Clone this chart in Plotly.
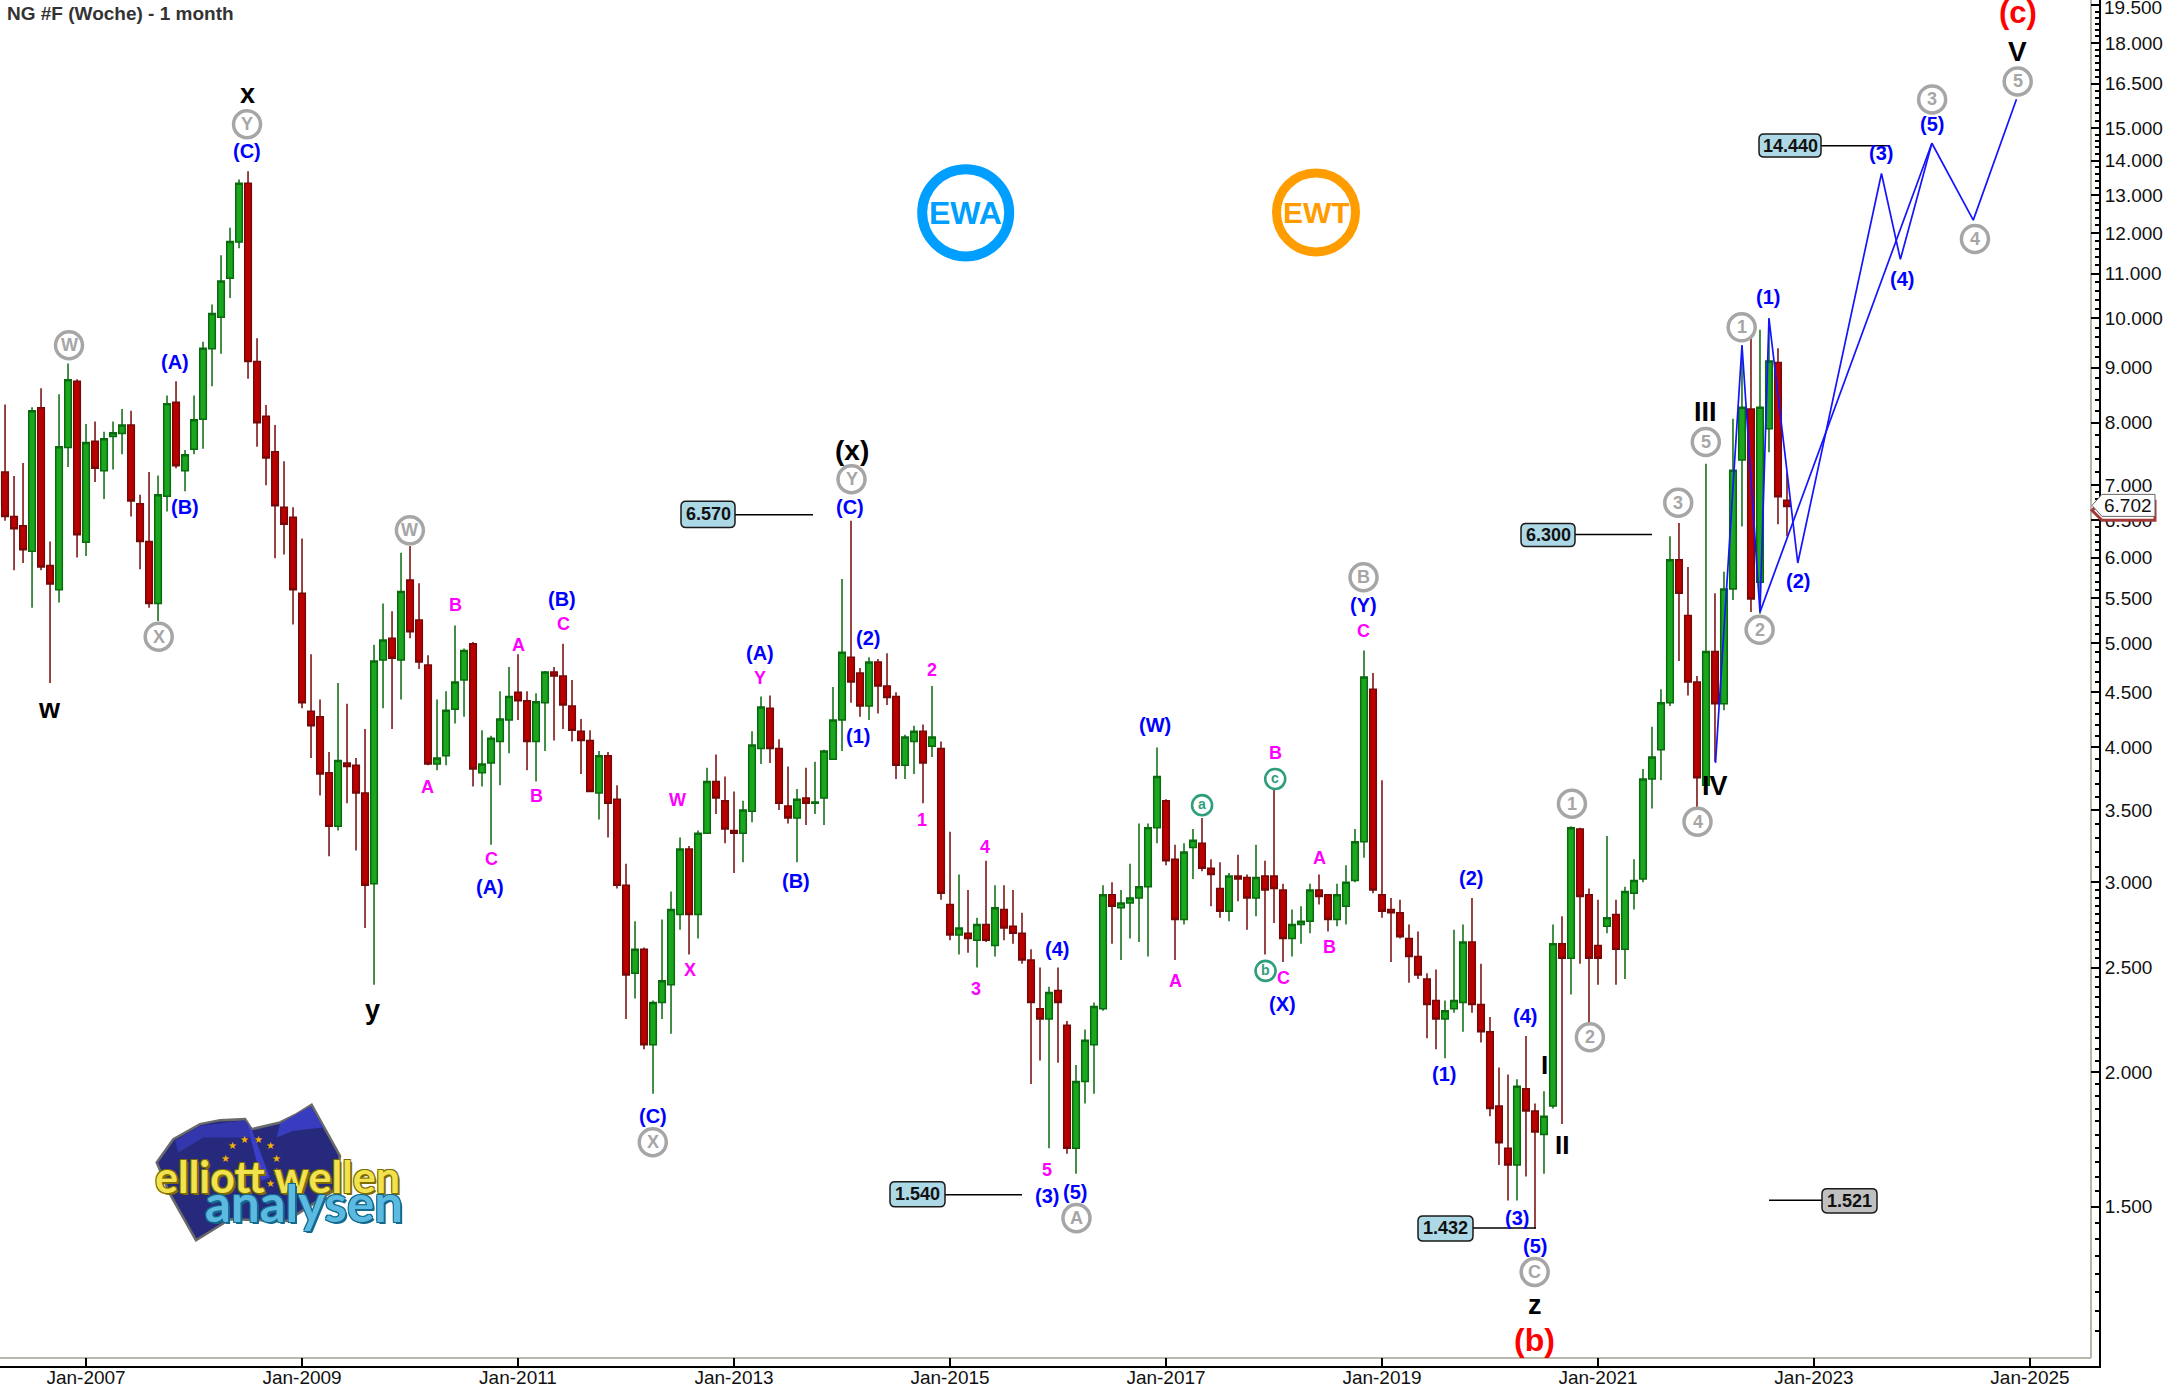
import plotly.graph_objects as go

# ---------- data: monthly OHLC, Mar-2006 onward (month number counted from Jan-2006 = 0) ----------
opens = [7.20,7.20,6.55,6.42,6.08,8.26,5.90,5.60,7.59,8.74,6.20,7.69,7.22,7.77,7.82,7.96,6.73,6.21,5.44,6.84,8.36,7.22,7.56,8.06,9.37,
 10.02,10.89,11.77,13.34,9.12,8.11,7.52,6.68,6.54,5.56,4.32,4.27,3.79,3.38,3.87,3.85,3.63,2.99,4.82,5.05,4.82,5.72,5.25,4.77,3.86,3.93,4.34,4.62,
 4.99,3.79,3.87,4.05,4.24,4.50,4.42,4.05,4.40,4.70,4.66,4.37,4.14,4.06,3.63,3.93,3.58,2.98,2.47,2.60,2.12,2.32,2.41,2.80,3.22,2.80,3.33,3.72,3.57,
 3.35,3.33,3.49,3.99,4.35,3.99,3.53,3.44,3.59,3.55,3.59,3.90,4.24,4.85,4.69,4.37,4.80,4.56,4.46,3.85,4.05,4.14,4.01,3.99,2.86,2.68,2.69,2.65,2.74,
 2.62,2.83,2.73,2.69,2.54,2.29,2.24,2.38,2.21,1.70,1.96,2.12,2.29,2.92,2.84,2.87,2.90,2.97,3.37,3.57,3.15,2.77,3.23,3.26,3.09,2.96,2.82,3.04,3.03,
 2.90,3.04,3.04,2.95,2.66,2.74,2.76,2.95,2.92,2.77,2.85,3.01,3.27,4.53,2.92,2.83,2.81,2.66,2.56,2.44,2.33,2.24,2.29,2.32,2.64,2.31,2.18,1.86,1.70,
 1.64,1.93,1.84,1.75,1.86,2.63,2.55,3.36,2.92,2.62,2.73,2.80,2.60,2.93,3.02,3.74,3.98,4.40,5.97,5.30,4.60,3.69,4.91,4.39,5.61,7.39,8.24,5.69,7.90,9.10,6.78]
highs = [7.30,8.32,7.14,7.34,8.27,8.61,6.21,8.50,9.08,8.78,7.98,8.02,7.85,8.02,8.24,8.21,6.86,7.20,7.15,8.48,8.74,7.55,8.48,9.51,10.30,
 11.44,12.13,13.45,13.69,9.58,8.31,7.96,7.37,6.68,6.25,4.88,4.43,3.96,4.59,4.39,3.91,4.16,4.98,5.44,5.35,6.06,6.15,5.68,4.87,4.43,4.51,5.19,4.94,
 5.01,4.15,4.10,4.51,4.75,4.88,4.51,4.49,4.71,4.75,4.99,4.62,4.25,4.15,3.97,3.96,3.69,3.12,2.76,2.61,2.33,2.77,2.94,3.30,3.24,3.35,3.83,3.94,3.76,
 3.64,3.57,4.14,4.46,4.47,4.07,3.84,3.66,3.83,3.88,3.98,4.55,5.73,6.49,4.74,4.85,4.83,4.89,4.50,4.11,4.19,4.20,4.56,4.05,3.34,3.05,2.95,2.78,3.14,
 2.98,2.98,2.95,2.81,2.60,2.50,2.40,2.50,2.23,2.03,2.19,2.32,2.98,3.00,2.95,3.12,3.40,3.40,4.00,3.58,3.25,3.26,3.36,3.44,3.15,3.13,3.06,3.18,3.05,
 3.25,3.14,3.66,2.99,2.83,2.85,2.99,3.05,2.92,2.99,3.11,3.36,4.92,4.69,3.73,2.90,2.89,2.74,2.70,2.47,2.49,2.33,2.71,2.74,2.90,2.52,2.25,2.02,1.99,
 1.97,2.16,1.87,1.92,2.74,2.79,3.38,3.37,2.96,2.89,3.31,2.89,2.97,3.15,3.82,4.18,4.53,6.28,6.46,5.88,4.66,7.33,5.56,5.82,8.07,9.44,9.64,9.76,10.00,9.38,7.19]
lows = [6.40,6.49,5.84,5.93,5.39,5.84,4.59,5.45,7.28,6.00,6.02,7.05,6.80,7.24,7.48,6.55,5.85,5.39,5.24,6.62,7.26,6.91,7.48,7.57,8.65,
 9.27,10.44,11.61,8.79,7.60,7.00,5.99,6.04,5.20,4.35,3.91,3.61,3.17,3.35,3.55,3.21,2.72,2.41,4.35,4.16,4.43,5.05,4.73,3.85,3.81,3.85,4.21,4.27,
 3.68,3.68,3.25,3.69,3.95,4.24,3.81,3.72,3.97,4.06,4.16,4.05,3.78,3.64,3.43,3.30,2.96,2.24,2.34,2.10,1.91,2.24,2.17,2.71,2.57,2.66,3.33,3.47,3.26,
 3.06,3.13,3.41,3.86,3.87,3.50,3.40,3.13,3.39,3.47,3.39,3.90,3.97,4.40,4.27,4.24,4.30,4.38,3.74,3.74,3.78,3.55,3.92,2.89,2.65,2.57,2.58,2.50,2.64,
 2.56,2.65,2.63,2.52,1.95,2.05,1.70,2.04,1.68,1.61,1.87,1.91,2.28,2.63,2.54,2.66,2.64,2.56,3.26,3.11,2.54,2.74,3.02,3.07,2.85,2.78,2.76,2.88,2.71,
 2.79,2.57,2.75,2.53,2.56,2.63,2.69,2.86,2.70,2.73,2.74,3.00,3.16,2.93,2.78,2.53,2.66,2.42,2.44,2.15,2.10,2.06,2.27,2.18,2.27,2.13,1.82,1.64,1.52,
 1.52,1.60,1.432,1.61,1.85,1.79,2.36,2.52,2.22,2.41,2.69,2.41,2.44,2.83,3.00,3.51,3.73,4.37,4.81,4.47,3.52,3.69,3.88,4.33,5.48,6.41,5.34,5.32,7.51,6.44,6.28]
closes = [6.72,6.55,6.38,6.10,8.21,5.88,5.67,7.60,8.77,6.30,7.67,7.26,7.73,7.83,7.96,6.77,6.21,5.44,6.86,8.33,7.30,7.47,8.05,9.38,10.10,
 10.83,11.78,13.34,9.12,8.00,7.42,6.70,6.44,5.60,4.40,4.19,3.78,3.38,3.89,3.84,3.63,2.98,4.81,5.03,4.84,5.58,5.12,4.80,3.86,3.91,4.33,4.60,4.92,
 3.82,3.86,4.08,4.25,4.46,4.42,4.05,4.41,4.70,4.66,4.38,4.15,4.06,3.64,3.93,3.55,2.98,2.46,2.60,2.12,2.32,2.43,2.83,3.22,2.80,3.33,3.72,3.59,3.36,
 3.33,3.50,4.02,4.36,3.99,3.55,3.44,3.58,3.55,3.56,3.97,4.24,4.90,4.60,4.37,4.80,4.56,4.45,3.85,4.09,4.14,3.87,4.09,2.93,2.68,2.72,2.66,2.74,2.65,
 2.84,2.72,2.69,2.54,2.32,2.24,2.37,2.32,1.70,1.96,2.14,2.30,2.92,2.85,2.87,2.90,2.97,3.37,3.76,3.14,2.77,3.20,3.28,3.09,3.05,2.82,3.04,3.02,2.90,
 3.03,2.95,2.96,2.66,2.74,2.76,2.95,2.91,2.77,2.92,3.00,3.27,4.65,2.95,2.82,2.81,2.67,2.56,2.46,2.31,2.24,2.28,2.33,2.64,2.31,2.18,1.85,1.72,1.64,
 1.94,1.84,1.76,1.82,2.63,2.55,3.37,2.91,2.55,2.55,2.78,2.60,2.94,3.01,3.74,3.92,4.40,5.97,5.56,4.60,3.75,4.91,4.39,5.61,7.23,8.27,5.49,8.27,9.13,6.83,6.69]
months = list(range(2, 2 + len(opens)))

# projected wave paths: (month number, price)
path_circled_m = [193.06, 196, 198, 217.1, 221.7, 226.5]
path_circled_p = [3.87, 9.44, 5.34, 14.53, 12.33, 15.96]
path_minor_m = [198, 199, 202.2, 211.5, 213.6, 217.1]
path_minor_p = [5.34, 10.0, 5.93, 13.62, 11.34, 14.53]

x_tick_months = [12, 36, 60, 84, 108, 132, 156, 180, 204, 228]
x_tick_labels = ["Jan-2007","Jan-2009","Jan-2011","Jan-2013","Jan-2015","Jan-2017","Jan-2019","Jan-2021","Jan-2023","Jan-2025"]
y_ticks = [1.5,2,2.5,3,3.5,4,4.5,5,5.5,6,6.5,7,8,9,10,11,12,13,14,15,16.5,18,19.5]
last_price = 6.702

# wave labels, positions in the coordinates of the 1568-wide view
black_labels = [("w",36,513,27),("x",179,68,27),("y",270,731,27),("(x)",617,326,28),("z",1112,945,27),("I",1119,771,26),
                ("II",1132,829,26),("III",1236,298,27),("IV",1243,569,27),("V",1462,37,28)]
red_labels = [("(b)",1112,970,32),("(c)",1462,9,31)]
blue_labels = [("(C)",179,109),("(A)",127,262),("(B)",134,367),("(A)",355,642),("(B)",407,434),("(C)",473,808),("(A)",551,473),
               ("(B)",577,638),("(C)",616,367),("(2)",629,462),("(1)",622,533),("(4)",766,687),("(3)",759,866),("(5)",779,863),
               ("(W)",837,525),("(X)",929,727),("(Y)",988,438),("(2)",1066,636),("(1)",1046,778),("(4)",1105,736),("(3)",1099,882),
               ("(5)",1112,902),("(1)",1281,215),("(2)",1303,421),("(3)",1363,111),("(4)",1378,202),("(5)",1400,90)]
magenta_labels = [("B",330,438),("A",310,570),("C",356,622),("A",376,467),("C",408,452),("B",389,576),("W",491,579),("X",500,702),
                  ("Y",551,491),("2",675,485),("1",668,594),("4",714,613),("3",707,716),("5",759,847),("A",852,710),("B",924,545),
                  ("C",930,708),("A",956,621),("B",963,686),("C",988,457)]
gray_circles = [("W",50,250),("X",115,461),("Y",179,90),("W",297,384),("X",473,827),("Y",617,347),("A",780,882),("B",988,418),
                ("C",1112,921),("1",1139,582),("2",1152,751),("3",1216,364),("5",1236,320),("4",1230,595),("1",1262,237),
                ("2",1275,456),("3",1400,72),("4",1431,173),("5",1462,59)]
green_circles = [("a",871,583),("b",917,703),("c",924,564)]
# price boxes: text, box x0,y0,x1,y1, line end x, line y, fill
price_boxes = [("6.570",681,501,735,527,813,514.5,"#add8e6"),("14.440",1759,134,1821,157,1890,145.7,"#add8e6"),
               ("6.300",1521,523,1575,546,1652,534,"#add8e6"),("1.540",890,1181,945,1206,1022,1194,"#add8e6"),
               ("1.432",1418,1215,1473,1240,1536,1227,"#add8e6"),("1.521",1822,1188,1877,1212,1769,1199.5,"#c0c0c0")]

W, H = 2164, 1384
S = 2164 / 1568
px = lambda v: v / W
py = lambda v: 1 - v / H
FONT = "Liberation Sans"
ann, shp = [], []

def text(t, x, y, size, color, bold=True, family=FONT, **kw):
    font = dict(family=family, size=size, color=color)
    font.update(kw.pop("fontx", {}))
    ann.append(dict(text=f"<b>{t}</b>" if bold else t, x=px(x), y=py(y), xref="paper", yref="paper",
                    xanchor="center", yanchor="middle", showarrow=False, font=font, **kw))

def paper_shape(**kw):
    shp.append(dict(xref="paper", yref="paper", **kw))

def pth(points, close=True):
    s = "M " + " L ".join(f"{px(a):.5f},{py(b):.5f}" for a, b in points)
    return s + (" Z" if close else "")

def round_box(x0, y0, x1, y1, r=5):
    a, b, c, d = px(x0), px(x1), py(y0), py(y1)
    rx, ry = r / W, r / H
    return (f"M {a+rx},{c} L {b-rx},{c} Q {b},{c} {b},{c-ry} L {b},{d+ry} Q {b},{d} {b-rx},{d} "
            f"L {a+rx},{d} Q {a},{d} {a},{d+ry} L {a},{c-ry} Q {a},{c} {a+rx},{c} Z")

def ring(cx, cy, d, color, lw):
    paper_shape(type="circle", x0=px(cx-d/2), x1=px(cx+d/2), y0=py(cy+d/2), y1=py(cy-d/2),
                line=dict(color=color, width=lw), fillcolor="rgba(255,255,255,0)")

for t, x, y, size in black_labels:
    text(t, x*S, y*S, size, "#000000")
for t, x, y, size in red_labels:
    text(t, x*S, y*S, size, "#ff0000")
for t, x, y in blue_labels:
    text(t, x*S, y*S, 20, "#0000ff")
for t, x, y in magenta_labels:
    text(t, x*S, y*S, 18, "#ff00ff")
for t, x, y in gray_circles:
    ring(x*S, y*S, 27, "#a6a6a6", 3.5)
    text(t, x*S, y*S, 18, "#a6a6a6")
for t, x, y in green_circles:
    ring(x*S, y*S, 20, "#2f9e7c", 2.6)
    text(t, x*S, y*S-1, 14, "#2f9e7c")

for t, x0, y0, x1, y1, xe, yl, fill in price_boxes:
    paper_shape(type="line", x0=px(x1 if xe > x1 else x0), x1=px(xe), y0=py(yl), y1=py(yl), line=dict(color="#000000", width=1.5))
    paper_shape(type="path", path=round_box(x0, y0, x1, y1), fillcolor=fill, line=dict(color="#1a1a1a", width=1.5))
    text(t, (x0+x1)/2, (y0+y1)/2, 18, "#111111")

text("NG #F (Woche) - 1 month", 120, 13, 19, "#333333")
text("19.500", 2133, 7, 19, "#111111", bold=False)

# EWA / EWT badges
ring(965.7, 212.7, 87, "#009fff", 10)
text("EWA", 965.7, 213, 32, "#009fff")
ring(1316, 212.3, 79, "#ff9d00", 9)
text("EWT", 1316, 212.5, 30, "#ff9d00")

# logo
lx = lambda v: 120 + v / 3
ly = lambda v: 1080 + v / 3
L = lambda pts: [(lx(a), ly(b)) for a, b in pts]
paper_shape(type="path", path=pth(L([(110,245),(160,175),(240,130),(300,118),(375,115),(395,145),(480,125),(530,100),(575,72),
            (660,225),(640,330),(500,420),(330,415),(228,478),(150,340)])), fillcolor="#272a7c", line=dict(color="#6a6a6a", width=2.5))
paper_shape(type="path", path=pth(L([(165,180),(240,135),(375,118),(392,170),(250,170),(175,215)])), fillcolor="#3336ac", line=dict(width=0))
paper_shape(type="path", path=pth(L([(378,120),(396,148),(450,290),(425,300)])), fillcolor="#3a3ec8", line=dict(width=0))
paper_shape(type="path", path=pth(L([(480,128),(572,76),(610,140),(520,150),(470,170)])), fillcolor="#383cc0", line=dict(width=0))
for a, b in [(337,195),(373,175),(415,175),(450,195),(470,232),(468,272),(450,308),(317,232)]:
    text("★", lx(a), ly(b), 10, "#f5b400", bold=False)
text("elliott wellen", 277, 1176, 43, "#f3e24f", family="Lato", fontx=dict(
    shadow="-1px -1px 0 #7d6c00,1px -1px 0 #7d6c00,-1px 1px 0 #7d6c00,2px 2px 0 #7d6c00"))
text("analysen", 304, 1202, 51, "#5cb9e0", family="Lato", fontx=dict(
    shadow="-1px -1px 0 #136a8e,1px -1px 0 #136a8e,-1px 1px 0 #136a8e,2px 2px 0 #136a8e"))

# frame: inner grey lines and last-price tag
paper_shape(type="line", x0=px(2091), x1=px(2091), y0=py(0), y1=py(1357), line=dict(color="#b8b8aa", width=2), layer="below")
paper_shape(type="line", x0=px(0), x1=px(2091), y0=py(1357), y1=py(1357), line=dict(color="#b8b8aa", width=2), layer="below")
paper_shape(type="path", path=pth([(2092,510),(2102,501),(2155,501),(2155,520),(2102,520)]), fillcolor="#ffffff",
            line=dict(color="#a33a3a", width=3))
paper_shape(type="path", path=pth([(2092,505),(2102,494),(2155,494),(2155,516),(2102,516)]), fillcolor="#ffffff",
            line=dict(color="#666666", width=1))
text(f"{last_price:.3f}", 2128, 505, 19, "#111111", bold=False)

minor = ([round(1.15 + .05*i, 2) for i in range(18)] + [round(2 + .05*i, 2) for i in range(20)] +
         [round(3 + .1*i, 1) for i in range(40)] + [round(7 + .2*i, 1) for i in range(40)] +
         [round(15 + .25*i, 2) for i in range(19)])
minor = [v for v in minor if v not in y_ticks]

fig = go.Figure()
fig.add_trace(go.Candlestick(x=months, open=opens, high=highs, low=lows, close=closes, whiskerwidth=0,
    increasing=dict(line=dict(color="#0a6a0e", width=1.5), fillcolor="#1ba61f"),
    decreasing=dict(line=dict(color="#760808", width=1.5), fillcolor="#bb0000"),
    showlegend=False, hoverinfo="skip"))
for mx, pv in ((path_circled_m, path_circled_p), (path_minor_m, path_minor_p)):
    fig.add_trace(go.Scatter(x=mx, y=pv, mode="lines", line=dict(color="#1414ff", width=1.7), showlegend=False, hoverinfo="skip"))

fig.update_layout(
    width=W, height=1388, margin=dict(l=0, r=0, t=0, b=0), paper_bgcolor="#ffffff", plot_bgcolor="#ffffff",
    boxgap=0.27, boxgroupgap=0, annotations=ann, shapes=shp,
    font=dict(family=FONT, color="#111111"),
    xaxis=dict(domain=[0, 2099/W], range=[2.44, 235.67], rangeslider=dict(visible=False), showgrid=False, zeroline=False,
               tickmode="array", tickvals=x_tick_months, ticktext=x_tick_labels, ticks="inside", ticklen=8, tickwidth=1.5,
               tickcolor="#000000", showline=True, linecolor="#000000", linewidth=2, tickfont=dict(size=19, color="#111111"),
               ticklabelstandoff=-7, anchor="y", fixedrange=True),
    yaxis=dict(domain=[(H-1365)/H, 1], type="log", range=[0.02849, 1.2951], side="right", showgrid=False, zeroline=False,
               tickmode="array", tickvals=y_ticks, ticktext=[f"{v:.3f}" for v in y_ticks], ticks="inside", ticklen=8, tickwidth=1.5,
               tickcolor="#000000", showline=True, linecolor="#000000", linewidth=2, tickfont=dict(size=19, color="#111111"),
               minor=dict(tickmode="array", tickvals=minor, ticks="inside", ticklen=4, tickwidth=1.5, tickcolor="#000000"),
               anchor="x", fixedrange=True),
)
fig.write_html("out.html", config=dict(displayModeBar=False),
               post_script="document.body.style.margin='0';document.documentElement.style.overflow='hidden';")
